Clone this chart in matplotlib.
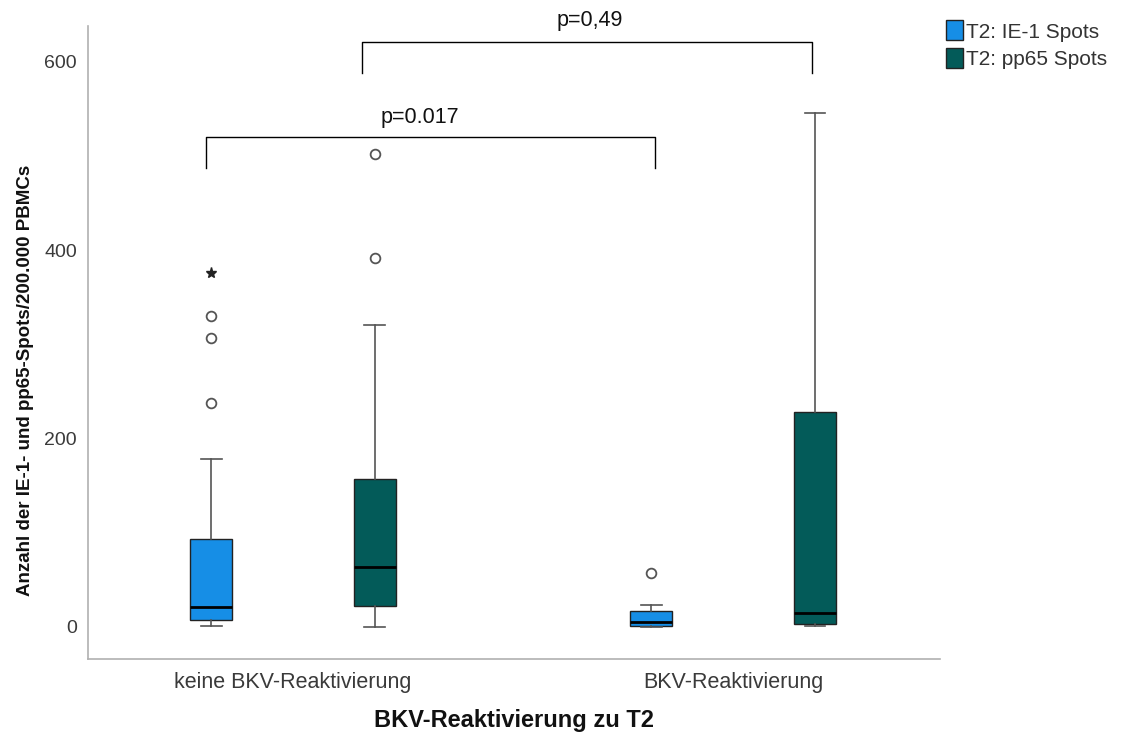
import matplotlib.pyplot as plt
import numpy as np

plt.rcParams['font.family'] = ['Liberation Sans', 'DejaVu Sans']

groups = ['keine BKV-Reaktivierung', 'BKV-Reaktivierung']
series = ['T2: IE-1 Spots', 'T2: pp65 Spots']
colors = ['#168ee6', '#035b59']

# box stats per series, per group: whislo, q1, med, q3, whishi
ie1_stats = [[1, 7, 21, 93, 178], [0, 1, 5, 17, 23]]
pp65_stats = [[0, 22, 64, 157, 320], [1, 3, 15, 228, 545]]
ie1_outliers = [[238, 307, 330], [57]]
pp65_outliers = [[392, 502], []]
ie1_extremes = [[376], []]
pp65_extremes = [[], []]

pvals = ['p=0.017', 'p=0,49']

fig = plt.figure(figsize=(11.22, 7.38), dpi=100)
ax = fig.add_axes([0.0784, 0.107, 0.8378 - 0.0784, 0.965 - 0.107])

x = np.arange(len(groups))
offset = 0.186
width = 0.095

all_stats = [ie1_stats, pp65_stats]
all_out = [ie1_outliers, pp65_outliers]
all_ext = [ie1_extremes, pp65_extremes]
for s, (st, outl, ext) in enumerate(zip(all_stats, all_out, all_ext)):
    pos = x + (s * 2 - 1) * offset
    bstats = []
    for g in range(len(groups)):
        lo, q1, med, q3, hi = st[g]
        bstats.append(dict(whislo=lo, q1=q1, med=med, q3=q3, whishi=hi, fliers=outl[g]))
    ax.bxp(bstats, positions=pos, widths=width, patch_artist=True, showcaps=True,
           boxprops=dict(facecolor=colors[s], edgecolor='#222222', linewidth=1),
           medianprops=dict(color='black', linewidth=2),
           whiskerprops=dict(color='#555555', linewidth=1.2),
           capprops=dict(color='#555555', linewidth=1.2),
           capwidths=width * 0.5,
           flierprops=dict(marker='o', markerfacecolor='white', markeredgecolor='#555555',
                           markersize=7, markeredgewidth=1.3))
    for g in range(len(groups)):
        if ext[g]:
            ax.plot([pos[g]] * len(ext[g]), ext[g], marker='*', color='#222222',
                    linestyle='none', markersize=8)

# significance brackets
def bracket(x1, x2, y, h, text, tx, ty):
    ax.plot([x1, x1, x2, x2], [y - h, y, y, y - h], color='black', linewidth=1, clip_on=False)
    ax.text(tx, ty, text, ha='center', va='center', fontsize=15.5, color='#111111', clip_on=False)

bracket(-0.198, 0.823, 520, 33, pvals[0], 0.289, 541)
bracket(0.157, 1.180, 621, 33, pvals[1], 0.675, 644)

ax.set_xlim(-0.466, 1.470)
ax.set_ylim(-34, 638)
ax.set_xticks(x)
ax.set_xticklabels(groups)
ax.set_yticks([0, 200, 400, 600])
ax.tick_params(length=0, labelcolor='#3a3a3a')
ax.tick_params(axis='x', labelsize=15.5, pad=9)
ax.tick_params(axis='y', labelsize=14, pad=8)
for sp in ['top', 'right']:
    ax.spines[sp].set_visible(False)
for sp in ['left', 'bottom']:
    ax.spines[sp].set_color('#b0b0b0')
    ax.spines[sp].set_linewidth(1.2)

ax.set_xlabel('BKV-Reaktivierung zu T2', fontsize=17, fontweight='bold', color='#111111', labelpad=12)
ax.set_ylabel('Anzahl der IE-1- und pp65-Spots/200.000 PBMCs', fontsize=13.5, fontweight='bold',
              color='#111111')
ax.yaxis.set_label_coords(-0.063, 0.44)

handles = [plt.Rectangle((0, 0), 1, 1, facecolor=c, edgecolor='#222222') for c in colors]
fig.legend(handles, series, loc='upper left', bbox_to_anchor=(0.83, 0.992), frameon=False,
           fontsize=15, handlelength=0.8, handleheight=1.1, handletextpad=0.15, labelspacing=0.3,
           borderpad=0.2, labelcolor='#333333')

fig.savefig('out.png', dpi=100)
